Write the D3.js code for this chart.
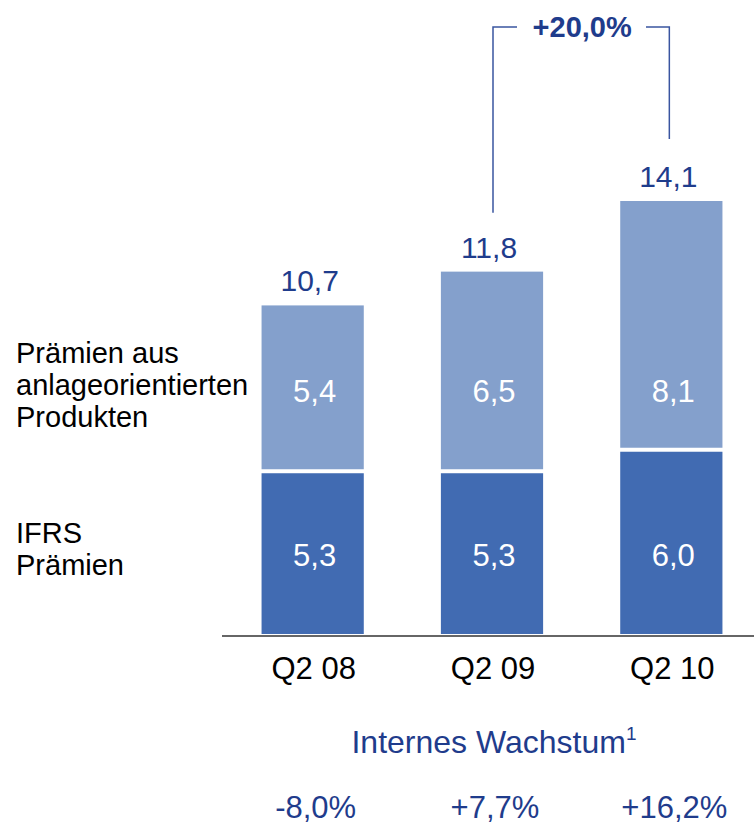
<!DOCTYPE html>
<html>
<head>
<meta charset="utf-8">
<script src="https://cdn.jsdelivr.net/npm/d3@7"></script>
<style>
    body { margin: 0; background: #fff; }
    svg { display: block; font-family: Arial, 'Liberation Sans', sans-serif; }
</style>
</head>
<body>
<svg id="chart"></svg>
<script>
var quarters = ['Q2 08', 'Q2 09', 'Q2 10'];
var ifrsValues = [5.3, 5.3, 6.0];
var anlageValues = [5.4, 6.5, 8.1];
var totals = [10.7, 11.8, 14.1];
var growthLabels = ['-8,0%', '+7,7%', '+16,2%'];
var bracketLabel = '+20,0%';

var WIDTH = 754,
    HEIGHT = 824;

var DARK = '#416bb2',
    LIGHT = '#84a0cc',
    NAVY = '#1f3c8c';

var fmt = function (v) {
    return v.toFixed(1).replace('.', ',');
};

var svg = d3.select('#chart')
    .attr('width', WIDTH)
    .attr('height', HEIGHT);

var x = d3.scaleBand()
    .domain(quarters)
    .range([223, 761])
    .paddingInner(0.43)
    .paddingOuter(0.215);

var y = d3.scaleLinear()
    .domain([0, 14.1])
    .range([634, 201]);

var bars = quarters.map(function (q, i) {
    return { q: q, ifrs: ifrsValues[i], anlage: anlageValues[i], total: totals[i] };
});

var groups = svg.selectAll('g.bar')
    .data(bars)
    .enter()
    .append('g')
    .attr('class', 'bar');

// IFRS Prämien (dark)
groups.append('rect')
    .attr('x', function (d) { return x(d.q); })
    .attr('width', x.bandwidth())
    .attr('y', function (d) { return y(d.ifrs) + 2; })
    .attr('height', function (d) { return y(0) - y(d.ifrs) - 2; })
    .style('fill', DARK);

// anlageorientierte Produkte (light)
groups.append('rect')
    .attr('x', function (d) { return x(d.q); })
    .attr('width', x.bandwidth())
    .attr('y', function (d) { return y(d.total); })
    .attr('height', function (d) { return y(d.ifrs) - y(d.total) - 2; })
    .style('fill', LIGHT);

// segment labels sit on one common row per series
var darkRow = 566,
    lightRow = 402;

groups.append('text')
    .attr('x', function (d) { return x(d.q) + x.bandwidth() / 2 + 2; })
    .attr('y', darkRow)
    .attr('text-anchor', 'middle')
    .style('font-size', '31px')
    .style('fill', '#fff')
    .text(function (d) { return fmt(d.ifrs); });

groups.append('text')
    .attr('x', function (d) { return x(d.q) + x.bandwidth() / 2 + 2; })
    .attr('y', lightRow)
    .attr('text-anchor', 'middle')
    .style('font-size', '31px')
    .style('fill', '#fff')
    .text(function (d) { return fmt(d.anlage); });

groups.append('text')
    .attr('x', function (d) { return x(d.q) + x.bandwidth() / 2 - 3; })
    .attr('y', function (d) { return y(d.total) - 14; })
    .attr('text-anchor', 'middle')
    .style('font-size', '30px')
    .style('fill', NAVY)
    .text(function (d) { return fmt(d.total); });

// axis
var xAxis = svg.append('g')
    .attr('transform', 'translate(0,' + 636 + ')')
    .call(d3.axisBottom(x).tickSize(0).tickPadding(20));
xAxis.select('.domain').remove();
xAxis.append('line')
    .attr('x1', 222)
    .attr('x2', WIDTH)
    .attr('stroke', '#333')
    .attr('stroke-width', 1.5);
xAxis.selectAll('.tick text')
    .attr('dy', 0)
    .attr('y', 43)
    .attr('x', 1)
    .style('font-family', 'Arial, "Liberation Sans", sans-serif')
    .style('font-size', '31px')
    .style('fill', '#000');

// left legend labels
var legend = [
    { lines: ['Prämien aus', 'anlageorientierten', 'Produkten'], y: 363 },
    { lines: ['IFRS', 'Prämien'], y: 543 }
];
legend.forEach(function (l) {
    var t = svg.append('text')
        .attr('x', 16)
        .attr('y', l.y)
        .style('font-size', '29px')
        .style('fill', '#000');
    l.lines.forEach(function (line, i) {
        t.append('tspan')
            .attr('x', 16)
            .attr('dy', i === 0 ? 0 : 32)
            .text(line);
    });
});

// growth bracket between Q2 09 and Q2 10
var bx1 = x(quarters[1]) + x.bandwidth() / 2 + 1,
    bx2 = x(quarters[2]) + x.bandwidth() / 2 - 2,
    by = 27;
svg.append('path')
    .attr('d', 'M' + bx1 + ',' + (y(totals[1]) - 59) + 'V' + by + 'H517')
    .attr('fill', 'none')
    .attr('stroke', '#3a55a0')
    .attr('stroke-width', 1.5);
svg.append('path')
    .attr('d', 'M646,' + by + 'H' + bx2 + 'V' + (y(totals[2]) - 62))
    .attr('fill', 'none')
    .attr('stroke', '#3a55a0')
    .attr('stroke-width', 1.5);
svg.append('text')
    .attr('x', (bx1 + bx2) / 2 + 1)
    .attr('y', 37)
    .attr('text-anchor', 'middle')
    .style('font-size', '29px')
    .style('font-weight', 'bold')
    .style('fill', NAVY)
    .text(bracketLabel);

// internal growth
var title = svg.append('text')
    .attr('x', x(quarters[1]) + x.bandwidth() / 2 + 2)
    .attr('y', 753)
    .attr('text-anchor', 'middle')
    .style('font-size', '32px')
    .style('fill', NAVY);
title.append('tspan').text('Internes Wachstum');
title.append('tspan')
    .attr('dy', -13)
    .style('font-size', '19px')
    .text('1');

svg.selectAll('text.growth')
    .data(growthLabels)
    .enter()
    .append('text')
    .attr('class', 'growth')
    .attr('x', function (d, i) { return x(quarters[i]) + x.bandwidth() / 2 + 3; })
    .attr('y', 818)
    .attr('text-anchor', 'middle')
    .style('font-size', '31px')
    .style('fill', NAVY)
    .text(function (d) { return d; });
</script>
</body>
</html>
